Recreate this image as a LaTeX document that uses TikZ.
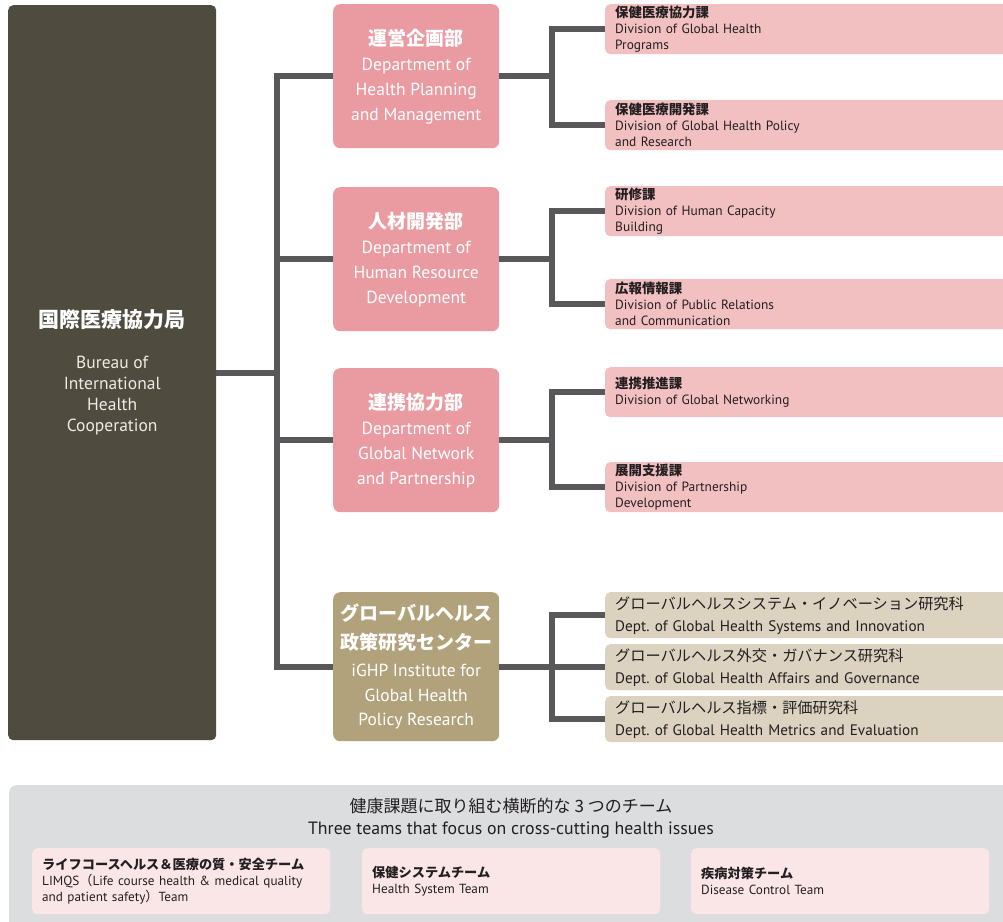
\documentclass[tikz,border=0pt]{standalone}
\usepackage{fontspec}
\setmainfont{PT Sans}
\newfontfamily\jp{Noto Sans CJK JP}
\definecolor{bureauc}{HTML}{4F4B3F}
\definecolor{deptc}{HTML}{EA9BA1}
\definecolor{divc}{HTML}{F2C0C1}
\definecolor{ighpc}{HTML}{B1A27B}
\definecolor{subc}{HTML}{DBD2C0}
\definecolor{linec}{HTML}{58585A}
\definecolor{panelc}{HTML}{DCDDDF}
\definecolor{teamc}{HTML}{FAE6E7}
\definecolor{txtc}{HTML}{231F20}
\definecolor{enw}{HTML}{EEEBE6}
\frenchspacing
\begin{document}
\begin{tikzpicture}[x=1pt,y=-1pt,
  bureaubox/.style={fill=bureauc, rounded corners=5pt, anchor=north west, minimum width=208pt, minimum height=735pt, align=center, text=white, inner sep=0pt, font=\fontsize{17.5}{21}\selectfont},
  deptbox/.style={fill=deptc, rounded corners=7pt, anchor=north west, minimum width=166pt, minimum height=144pt, align=center, text=white, inner sep=0pt, font=\fontsize{17.5}{25}\selectfont},
  ighpbox/.style={fill=ighpc, rounded corners=7pt, anchor=north west, minimum width=166pt, minimum height=149pt, align=center, text=white, inner sep=0pt, font=\fontsize{17.5}{24.5}\selectfont},
  divbox/.style={fill=divc, rounded corners=5pt, anchor=north west, text width=400pt, inner xsep=10pt, inner ysep=0pt, minimum height=50pt, align=left, text=txtc, font=\fontsize{13.4}{16}\selectfont},
  subbox/.style={fill=subc, rounded corners=5pt, anchor=north west, text width=400pt, inner xsep=10pt, inner ysep=0pt, minimum height=46pt, align=left, text=txtc, font=\fontsize{15.2}{22}\selectfont},
  teambox/.style={fill=teamc, rounded corners=5pt, anchor=north west, text width=278pt, inner xsep=10pt, inner ysep=0pt, minimum height=66pt, align=left, text=txtc, font=\fontsize{13.2}{16}\selectfont},
  panelbox/.style={fill=panelc, rounded corners=7pt, anchor=north west, minimum width=1010pt, minimum height=150pt, inner sep=0pt},
  conn/.style={draw=linec, line width=6pt},
]
\clip (0,0) rectangle (1003,921);
\fill[white] (0,0) rectangle (1003,921);

% main boxes
\node[bureaubox] (bureau) at (8,5) {{\jp\bfseries\fontsize{21}{26}\selectfont 国際医療協力局}\\[20pt]
  {\color{enw}Bureau of}\\{\color{enw}International}\\{\color{enw}Health}\\{\color{enw}Cooperation}};

\node[deptbox] (dp1) at (333,4) {{\jp\bfseries\fontsize{19}{25}\selectfont 運営企画部}\\Department of\\Health Planning\\and Management};
\node[deptbox] (dp2) at (333,187) {{\jp\bfseries\fontsize{19}{25}\selectfont 人材開発部}\\Department of\\Human Resource\\Development};
\node[deptbox] (dp3) at (333,368) {{\jp\bfseries\fontsize{19}{25}\selectfont 連携協力部}\\Department of\\Global Network\\and Partnership};
\node[ighpbox] (ig) at (333,592) {{\jp\bfseries\fontsize{19}{29}\selectfont グローバルヘルス}\\[4.5pt]{\jp\bfseries\fontsize{19}{29}\selectfont 政策研究センター}\\[2.5pt]iGHP Institute for\\Global Health\\Policy Research};

% divisions
\node[divbox] (dv1) at (605,4) {{\jp\bfseries 保健医療協力課}\\Division of Global Health\\Programs};
\node[divbox] (dv2) at (605,100) {{\jp\bfseries 保健医療開発課}\\Division of Global Health Policy\\and Research};
\node[divbox] (dv3) at (605,186) {{\jp\bfseries 研修課}\\Division of Human Capacity\\Building};
\node[divbox] (dv4) at (605,279) {{\jp\bfseries 広報情報課}\\Division of Public Relations\\and Communication};
\node[divbox] (dv5) at (605,367) {{\jp\bfseries 連携推進課}\\Division of Global Networking};
\node[divbox] (dv6) at (605,462) {{\jp\bfseries 展開支援課}\\Division of Partnership\\Development};

\node[subbox] (s1) at (605,592) {{\jp グローバルヘルスシステム・イノベーション研究科}\\Dept. of Global Health Systems and Innovation};
\node[subbox] (s2) at (605,644) {{\jp グローバルヘルス外交・ガバナンス研究科}\\Dept. of Global Health Affairs and Governance};
\node[subbox] (s3) at (605,696) {{\jp グローバルヘルス指標・評価研究科}\\Dept. of Global Health Metrics and Evaluation};

% connectors
\coordinate (tk) at (277,0);
\coordinate (rt) at (552,0);
\draw[conn] (bureau.east) -- (tk |- bureau.east);
\draw[conn] (dp1.west) -| (tk |- ig.west) -- (ig.west);
\draw[conn] (dp2.west) -- (tk |- dp2.west);
\draw[conn] (dp3.west) -- (tk |- dp3.west);

\draw[conn] (dp1.east) -- (rt |- dp1.east);
\draw[conn] (dv1.west) -| (rt |- dv2.west) -- (dv2.west);
\draw[conn] (dp2.east) -- (rt |- dp2.east);
\draw[conn] (dv3.west) -| (rt |- dv4.west) -- (dv4.west);
\draw[conn] (dp3.east) -- (rt |- dp3.east);
\draw[conn] (dv5.west) -| (rt |- dv6.west) -- (dv6.west);
\draw[conn] (ig.east) -- (rt |- ig.east);
\draw[conn] (s1.west) -| (rt |- s3.west) -- (s3.west);
\draw[conn] (s2.west) -- (rt |- s2.west);

% bottom panel
\node[panelbox] (panel) at (9,785) {};
\node[text=txtc, font=\jp\fontsize{17}{20}\selectfont, inner sep=0pt] (ttl) at (511,806) {健康課題に取り組む横断的な 3 つのチーム};
\node[text=txtc, font=\fontsize{17.8}{20}\selectfont, inner sep=0pt] (ttlen) at (511,830) {Three teams that focus on cross-cutting health issues};

\node[teambox] (t1) at (32,848) {{\jp\bfseries ライフコースヘルス＆医療の質・安全チーム}\\LIMQS{\jp（}Life course health \& medical quality\\and patient safety{\jp）}Team};
\node[teambox] (t2) at (362,848) {{\jp\bfseries 保健システムチーム}\\Health System Team};
\node[teambox] (t3) at (691,848) {{\jp\bfseries 疾病対策チーム}\\Disease Control Team};
\end{tikzpicture}
\end{document}
